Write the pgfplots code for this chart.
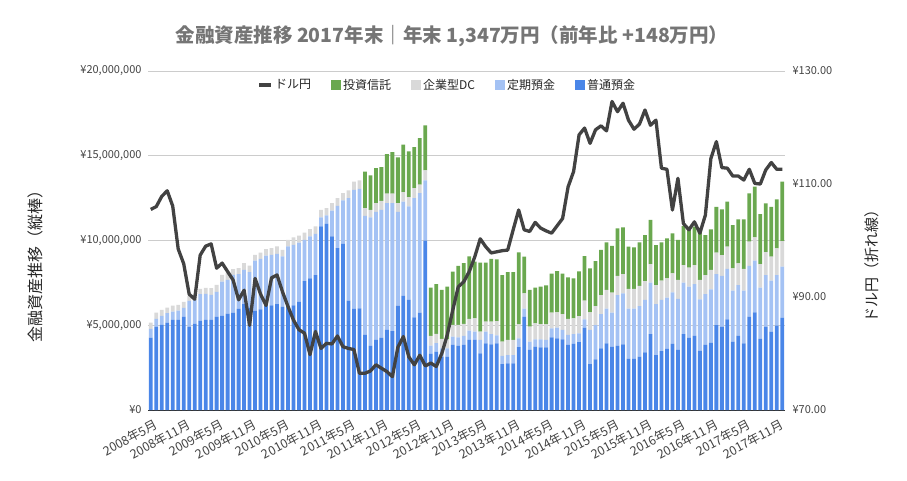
\documentclass[border=0pt]{standalone}
\usepackage{fontspec}
\setmainfont{Noto Sans CJK JP}
\usepackage{pgfplots}
\usepackage{pgfplotstable}
\pgfplotsset{compat=1.18}
\definecolor{cFutsu}{RGB}{74,134,232}
\definecolor{cTeiki}{RGB}{164,194,244}
\definecolor{cDC}{RGB}{217,217,217}
\definecolor{cToshin}{RGB}{106,168,79}
\definecolor{cLine}{RGB}{66,66,66}
\definecolor{cTick}{RGB}{68,68,68}
\definecolor{cTitle}{RGB}{117,117,117}
\definecolor{cGrid}{RGB}{204,204,204}
\pgfplotsset{sqleg/.style={legend image code/.code={\fill[##1] (0pt,-5pt) rectangle (10pt,5pt);}}}

\pgfplotstableread{
i f t d s u
0 4.27 0.51 0.38 0 105.5
1 4.92 0.45 0.38 0 106.0
2 5.02 0.53 0.36 0 107.8
3 5.16 0.55 0.33 0 108.8
4 5.31 0.50 0.35 0 106.1
5 5.31 0.56 0.33 0 98.5
6 5.49 0.53 0.36 0 95.9
7 4.92 1.52 0.29 0 90.5
8 5.08 1.42 0.33 0 89.6
9 5.28 1.55 0.32 0 97.4
10 5.31 1.54 0.35 0 99.0
11 5.31 1.48 0.40 0 99.4
12 5.49 1.48 0.41 0 95.1
13 5.55 2.03 0.39 0 96.0
14 5.69 1.99 0.43 0 94.5
15 5.75 2.22 0.34 0 93.0
16 5.96 2.05 0.36 0 89.5
17 6.24 2.03 0.39 0 91.2
18 6.04 2.09 0.39 0 85.0
19 5.85 2.97 0.33 0 93.3
20 5.94 2.98 0.37 0 90.5
21 6.14 2.97 0.38 0 88.5
22 6.18 2.97 0.40 0 93.4
23 6.24 2.97 0.44 0 93.9
24 6.08 2.98 0.39 0 90.9
25 6.14 3.51 0.39 0 88.3
26 6.18 3.56 0.44 0 85.9
27 6.38 3.50 0.41 0 84.2
28 7.60 2.44 0.43 0 83.6
29 7.76 2.48 0.43 0 79.8
30 7.95 2.44 0.44 0 83.9
31 10.83 0.53 0.45 0 80.9
32 10.98 0.50 0.43 0 81.8
33 10.24 1.53 0.43 0 81.7
34 9.55 2.50 0.45 0 83.1
35 9.80 2.56 0.44 0 81.2
36 6.46 6.04 0.45 0 80.9
37 5.96 7.03 0.49 0 80.7
38 6.00 7.05 0.49 0 76.5
39 4.43 7.03 0.45 2.16 76.5
40 3.78 7.58 0.45 2.03 76.9
41 4.13 7.56 0.51 2.07 78.0
42 4.25 7.56 0.53 1.99 77.4
43 4.72 7.48 0.56 2.34 76.8
44 4.66 7.54 0.56 2.46 75.9
45 6.14 5.55 0.51 2.70 81.1
46 6.73 5.57 0.55 2.80 83.0
47 6.50 5.51 0.55 2.70 79.4
48 5.47 7.03 0.59 2.42 78.0
49 5.75 7.05 0.49 2.75 79.7
50 10.00 3.54 0.59 2.66 77.8
51 3.31 0.49 0.57 2.85 78.3
52 3.44 0.50 0.55 2.93 77.7
53 3.15 0.49 0.55 2.90 80.0
54 3.15 0.49 0.53 3.11 83.3
55 3.84 0.49 0.69 3.15 87.7
56 3.78 0.51 0.73 3.48 91.8
57 3.84 0.53 0.71 3.58 92.7
58 4.13 0.55 0.70 3.69 94.5
59 4.13 0.49 0.79 3.34 97.1
60 3.34 0.79 0.49 4.08 100.3
61 3.93 0.69 0.59 3.49 98.9
62 3.87 0.61 0.73 3.70 97.8
63 3.93 0.48 0.84 3.64 98.0
64 2.71 0.49 0.83 3.93 98.2
65 2.75 0.49 0.89 4.01 98.3
66 2.75 0.49 0.89 4.01 101.9
67 3.71 0.52 0.82 4.25 105.4
68 5.51 0.47 0.90 2.17 101.9
69 3.54 0.49 0.89 2.16 101.6
70 3.74 0.43 0.94 2.11 103.2
71 3.70 0.47 0.90 2.21 102.2
72 3.70 0.43 0.92 2.31 101.7
73 4.29 0.53 0.92 2.30 101.3
74 4.23 0.63 0.90 2.44 102.6
75 4.17 0.55 0.94 2.38 103.9
76 3.84 0.59 0.94 2.46 109.5
77 3.90 0.58 0.93 2.36 112.2
78 4.00 0.52 1.02 2.64 118.7
79 4.86 0.49 1.10 2.63 119.9
80 2.71 2.01 1.04 2.60 117.2
81 2.99 2.02 1.12 2.66 119.6
82 3.64 2.02 1.12 2.66 120.3
83 3.93 2.05 1.10 2.81 119.4
84 3.74 2.00 1.18 2.77 124.6
85 3.78 3.00 1.13 2.81 122.8
86 3.87 3.01 1.14 2.76 124.3
87 3.01 2.97 1.16 2.50 121.3
88 3.01 2.97 1.16 2.46 119.7
89 3.15 2.98 1.19 2.57 120.6
90 3.40 3.09 1.12 2.71 123.1
91 4.48 3.03 1.10 2.60 120.4
92 3.24 3.01 1.12 2.36 121.3
93 3.48 3.01 1.14 2.26 112.8
94 3.60 3.03 1.14 2.36 112.6
95 3.90 3.04 1.12 2.36 105.4
96 3.54 3.01 1.12 2.36 111.0
97 4.48 3.03 1.04 2.30 103.0
98 4.27 3.01 1.12 2.35 101.9
99 4.37 3.06 1.12 2.27 103.3
100 3.50 3.03 1.14 2.85 101.3
101 3.84 3.00 1.12 2.36 104.5
102 3.97 3.15 1.14 2.39 114.5
103 5.01 3.01 1.26 2.71 117.5
104 4.92 2.99 1.23 2.70 112.9
105 5.35 2.97 1.32 2.65 112.8
106 4.03 3.01 1.32 2.55 111.4
107 4.37 3.00 1.28 2.60 111.4
108 3.93 3.11 1.28 2.93 110.7
109 5.51 2.99 1.43 2.85 112.6
110 5.76 3.05 1.37 3.00 110.1
111 4.19 3.03 1.39 2.94 110.0
112 4.92 3.04 1.36 2.87 112.5
113 4.62 3.01 1.42 2.94 113.8
114 4.98 2.98 1.58 2.89 112.6
115 5.45 3.01 1.51 3.50 112.6
}\data

\begin{document}
\begin{tikzpicture}[x=1pt,y=1pt]
\path[use as bounding box, fill=white] (0,0) rectangle (907,480);
\node[font=\fontsize{19.5}{22}\selectfont\bfseries, text=cTitle] at (452,444) {金融資産推移 2017年末｜年末 1,347万円（前年比 +148万円）};
\node[rotate=90, font=\fontsize{16}{19}\selectfont, text=black!85] at (35,218) {金融資産推移（縦棒）};
\node[rotate=90, font=\fontsize{15}{18}\selectfont, text=black!85] at (872,218) {ドル円（折れ線）};

\begin{axis}[
  at={(148pt,70pt)}, anchor=south west, scale only axis,
  width=637pt, height=339pt,
  xmin=-0.5, xmax=115.5, ymin=0, ymax=20,
  ybar stacked, bar width=0.69,
  axis line style={draw=none}, tick style={draw=none}, major tick length=0pt,
  ymajorgrids, grid style={cGrid, line width=0.8pt},
  xtick={0,6,...,114},
  xticklabels={2008年5月,2008年11月,2009年5月,2009年11月,2010年5月,2010年11月,2011年5月,2011年11月,2012年5月,2012年11月,2013年5月,2013年11月,2014年5月,2014年11月,2015年5月,2015年11月,2016年5月,2016年11月,2017年5月,2017年11月},
  ytick={0,5,10,15,20},
  yticklabels={{¥0},{¥5,000,000},{¥10,000,000},{¥15,000,000},{¥20,000,000}},
  /pgf/number format/assume math mode=true,
  tick label style={font=\fontsize{11}{13}\selectfont, text=cTick},
  xticklabel style={font=\fontsize{12.5}{14}\selectfont, rotate=28, anchor=north east, xshift=0pt, yshift=-8pt, inner sep=1pt},
  yticklabel style={anchor=east, xshift=-3pt},
  reverse legend,
  legend columns=-1,
  legend style={at={(0.47,0.959)}, anchor=center, draw=none, fill=none,
    font=\fontsize{12}{14}\selectfont, text=black!85,
    /tikz/every even column/.append style={column sep=18pt}},
]
\addplot[sqleg, fill=cFutsu, draw=none] table[x=i,y=f]{\data};
\addlegendentry{普通預金}
\addplot[sqleg, fill=cTeiki, draw=none] table[x=i,y=t]{\data};
\addlegendentry{定期預金}
\addplot[sqleg, fill=cDC, draw=none] table[x=i,y=d]{\data};
\addlegendentry{企業型DC}
\addplot[sqleg, fill=cToshin, draw=none] table[x=i,y=s]{\data};
\addlegendentry{投資信託}
\addlegendimage{legend image code/.code={\draw[cLine, line width=3.5pt] (0pt,0pt) -- (12pt,0pt);}}
\addlegendentry{ドル円}
\draw[black!80, line width=1pt] (axis cs:-0.5,0) -- (axis cs:115.5,0);
\end{axis}

\begin{axis}[
  at={(148pt,70pt)}, anchor=south west, scale only axis,
  width=637pt, height=339pt,
  xmin=-0.5, xmax=115.5, ymin=70, ymax=130,
  axis line style={draw=none}, tick style={draw=none}, major tick length=0pt,
  xtick=\empty,
  ytick={70,90,110,130},
  yticklabels={{¥70.00},{¥90.00},{¥110.00},{¥130.00}},
  yticklabel pos=right,
  /pgf/number format/assume math mode=true,
  tick label style={font=\fontsize{11}{13}\selectfont, text=cTick},
  yticklabel style={anchor=west, xshift=4pt},
]
\addplot[cLine, line width=3.3pt, line join=round, mark=none] table[x=i,y=u]{\data};
\end{axis}
\end{tikzpicture}
\end{document}
